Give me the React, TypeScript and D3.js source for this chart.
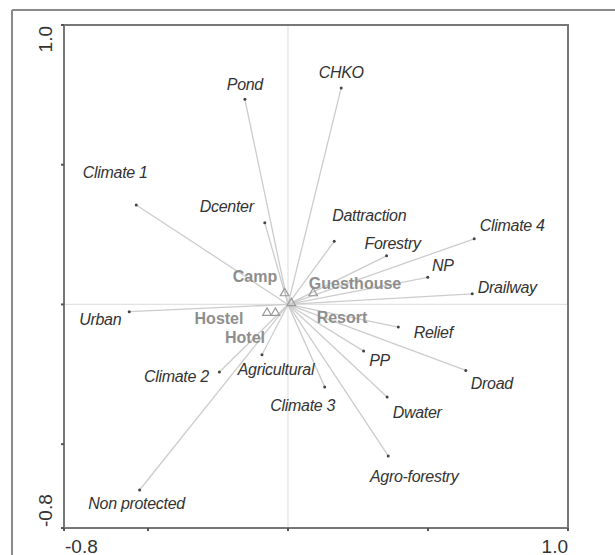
import React from "react";
import * as d3 from "d3";

// response variables (arrows), CCA-style biplot scores
const varNames = [
  "Pond", "CHKO", "Climate 1", "Dcenter", "Dattraction", "Forestry", "Climate 4",
  "NP", "Drailway", "Urban", "Relief", "PP", "Droad", "Agricultural",
  "Climate 2", "Climate 3", "Dwater", "Agro-forestry", "Non protected",
];
const varX = [
  -0.154, 0.19, -0.542, -0.083, 0.165, 0.352, 0.665,
  0.499, 0.658, -0.567, 0.394, 0.27, 0.635, -0.093,
  -0.245, 0.131, 0.354, 0.358, -0.53,
];
const varY = [
  0.734, 0.775, 0.356, 0.292, 0.226, 0.174, 0.235,
  0.097, 0.038, -0.026, -0.081, -0.167, -0.236, -0.18,
  -0.242, -0.295, -0.331, -0.542, -0.664,
];

// supplementary (accommodation types) centroids
const suppNames = ["Camp", "Guesthouse", "Hostel", "Hotel", "Resort"];
const suppX = [-0.012, 0.09, -0.075, -0.045, 0.012];
const suppY = [0.04, 0.04, -0.03, -0.03, 0.005];

const xTicks = [-0.8, -0.5, 0, 0.5, 1.0];
const yTicks = [-0.8, -0.5, 0, 0.5, 1.0];
const domainMin = -0.8;
const domainMax = 1.0;

// label offsets in px (layout only)
const varLabelOffset: Record<string, [number, number]> = {
  "Pond": [0, -15],
  "CHKO": [0, -15],
  "Climate 1": [-21, -32],
  "Dcenter": [-38, -16],
  "Dattraction": [35, -26],
  "Forestry": [6, -12],
  "Climate 4": [38, -13],
  "NP": [15, -12],
  "Drailway": [35, -6],
  "Urban": [-29, 8],
  "Relief": [35, 5],
  "PP": [16, 9],
  "Droad": [26, 13],
  "Agricultural": [14, 15],
  "Climate 2": [-43, 4],
  "Climate 3": [-22, 19],
  "Dwater": [30, 16],
  "Agro-forestry": [26, 21],
  "Non protected": [-3, 14],
};
const suppLabelPos: Record<string, [number, number]> = {
  "Camp": [255, 276],
  "Guesthouse": [355, 283],
  "Hostel": [219, 318],
  "Hotel": [245, 337],
  "Resort": [342, 317],
};

const WIDTH = 615;
const HEIGHT = 555;
const LEFT = 64;
const RIGHT = 568;
const TOP = 25;
const BOTTOM = 528;

const FONT = "'Liberation Sans', Arial, sans-serif";
const fmt = (v: number) => v.toFixed(1);

export default function App() {
  const x = d3.scaleLinear().domain([domainMin, domainMax]).range([LEFT, RIGHT]);
  const y = d3.scaleLinear().domain([domainMin, domainMax]).range([BOTTOM, TOP]);
  const tri = d3.symbol().type(d3.symbolTriangle).size(32)();

  return (
    <svg width={WIDTH} height={HEIGHT} style={{ position: "absolute", left: 0, top: 0, background: "#fff" }}>
      {/* outer frame */}
      <line x1={12} y1={10} x2={WIDTH} y2={10} stroke="#8a8a8a" strokeWidth={2} />
      <line x1={12} y1={10} x2={12} y2={HEIGHT} stroke="#8a8a8a" strokeWidth={2} />

      {/* zero lines */}
      <line x1={x(domainMin)} x2={x(domainMax)} y1={y(0)} y2={y(0)} stroke="#e2e2e2" strokeWidth={1.2} />
      <line x1={x(0)} x2={x(0)} y1={y(domainMin)} y2={y(domainMax)} stroke="#e2e2e2" strokeWidth={1.2} />

      {/* arrows */}
      {varNames.map((n, i) => (
        <line key={"l" + n} x1={x(0)} y1={y(0)} x2={x(varX[i])} y2={y(varY[i])} stroke="#cccccc" strokeWidth={1.3} />
      ))}
      {varNames.map((n, i) => (
        <circle key={"c" + n} cx={x(varX[i])} cy={y(varY[i])} r={1.5} fill="#444" />
      ))}

      {/* supplementary symbols */}
      {suppNames.map((n, i) => (
        <path key={"s" + n} d={tri!} transform={`translate(${x(suppX[i])},${y(suppY[i])})`}
          fill="none" stroke="#999" strokeWidth={1.2} />
      ))}
      {suppNames.map((n) => (
        <text key={"st" + n} x={suppLabelPos[n][0]} y={suppLabelPos[n][1]} textAnchor="middle"
          dominantBaseline="central" fontFamily={FONT} fontWeight="bold" fontSize={16} fill="#8e8e8e">
          {n}
        </text>
      ))}

      {/* variable labels */}
      {varNames.map((n, i) => (
        <text key={"t" + n} x={x(varX[i]) + varLabelOffset[n][0]} y={y(varY[i]) + varLabelOffset[n][1]}
          textAnchor="middle" dominantBaseline="central" fontFamily={FONT} fontStyle="italic"
          fontSize={16} fill="#333" letterSpacing={-0.3}>
          {n}
        </text>
      ))}

      {/* plot frame */}
      <rect x={LEFT} y={TOP} width={RIGHT - LEFT} height={BOTTOM - TOP} fill="none" stroke="#777" strokeWidth={2} />

      {/* ticks */}
      {xTicks.map((t) => (
        <line key={"xt" + t} x1={x(t)} x2={x(t)} y1={BOTTOM} y2={BOTTOM + 3} stroke="#555" strokeWidth={2} />
      ))}
      {yTicks.map((t) => (
        <line key={"yt" + t} x1={LEFT - 3} x2={LEFT} y1={y(t)} y2={y(t)} stroke="#555" strokeWidth={2} />
      ))}

      {/* end labels */}
      <text x={x(domainMin) + 1} y={546} textAnchor="start" dominantBaseline="central"
        fontFamily={FONT} fontSize={19} fill="#333">{fmt(xTicks[0])}</text>
      <text x={x(domainMax)} y={546} textAnchor="end" dominantBaseline="central"
        fontFamily={FONT} fontSize={19} fill="#333">{fmt(xTicks[xTicks.length - 1])}</text>
      <text transform={`translate(45,${y(domainMax) + 1}) rotate(-90)`} textAnchor="end" dominantBaseline="central"
        fontFamily={FONT} fontSize={19} fill="#333">{fmt(yTicks[yTicks.length - 1])}</text>
      <text transform={`translate(45,${y(domainMin) - 1}) rotate(-90)`} textAnchor="start" dominantBaseline="central"
        fontFamily={FONT} fontSize={19} fill="#333">{fmt(yTicks[0])}</text>
    </svg>
  );
}
